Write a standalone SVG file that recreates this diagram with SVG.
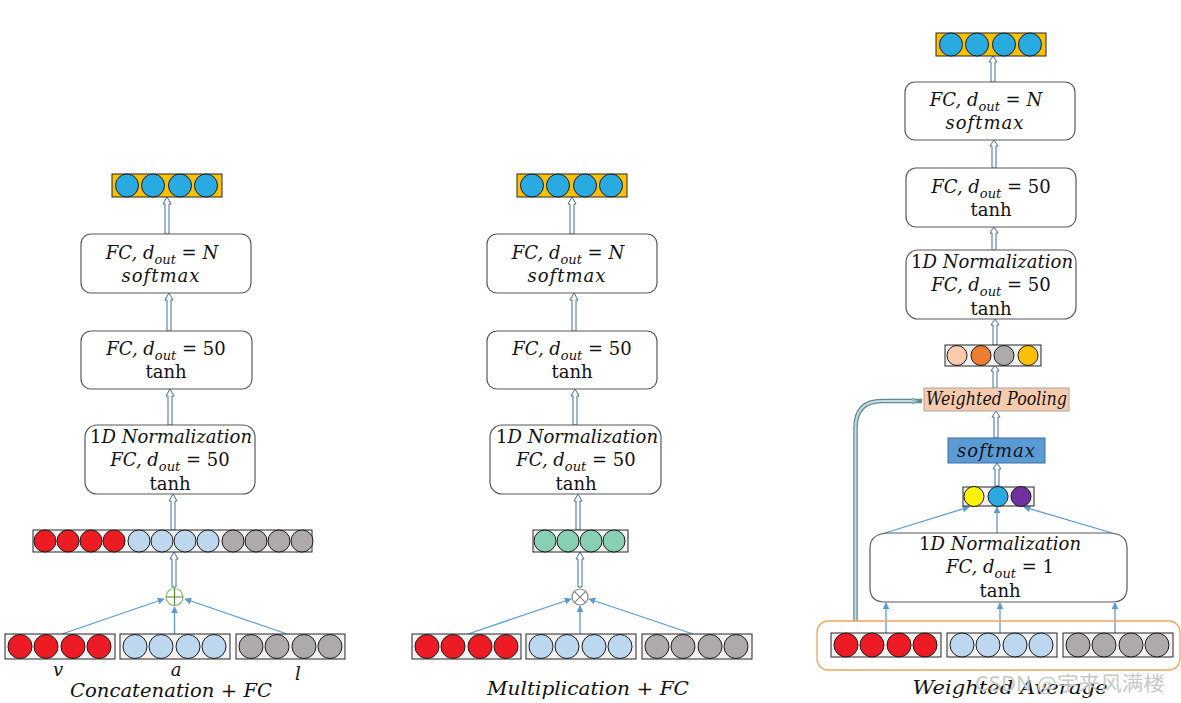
<svg xmlns="http://www.w3.org/2000/svg" width="1181" height="703" viewBox="0 0 1181 703">
<style>
.box{fill:#fff;stroke:#595959;stroke-width:1.2}
.bar{fill:#F2F2F2;stroke:#262626;stroke-width:1}
.obar{fill:#FFC000;stroke:#262626;stroke-width:1}
.c{stroke:#1a1a1a;stroke-width:1}
.red{fill:#ED1C24}.lb{fill:#BDD7EE}.gr{fill:#AEAAAA}.bl{fill:#29ABE2}.gn{fill:#88D0B4}
.pe{fill:#F8CBAD}.or{fill:#ED7D31}.go{fill:#FFC000}.ye{fill:#FFF200}.pu{fill:#7030A0}
.t{font-family:"DejaVu Serif","Liberation Serif",serif;font-size:18px;fill:#111;text-anchor:middle}
.i{font-style:italic}
.sub{font-size:13px;font-style:italic}
.ha{fill:#fff;stroke:#41719C;stroke-width:1}
.thin{stroke:#5B9BD5;stroke-width:1.3;fill:none;marker-end:url(#ah)}
.wm{font-family:"Noto Sans CJK SC","Liberation Sans",sans-serif;font-size:20px;fill:#c8c8c8}
</style>
<defs>
<marker id="ah" viewBox="0 0 10 10" refX="9" refY="5" markerWidth="7" markerHeight="7" markerUnits="userSpaceOnUse" orient="auto">
<path d="M0,0 L10,5 L0,10 z" fill="#5B9BD5"/>
</marker>
<marker id="ah2" viewBox="0 0 10 10" refX="8" refY="5" markerWidth="8" markerHeight="8" markerUnits="userSpaceOnUse" orient="auto">
<path d="M0,1 L9,5 L0,9 z" fill="#A9C4C8" stroke="#5E8A94" stroke-width="1"/>
</marker>
</defs>
<rect width="1181" height="703" fill="#fff"/>

<!-- connectors -->
<g id="connectors">
<path class="ha" d="M165,234 V204 H163 L167,197 L171,204 H169 V234 Z"/>
<path class="ha" d="M167,331 V300 H165 L169,293 L173,300 H171 V331 Z"/>
<path class="ha" d="M168,425 V396 H166 L170,389 L174,396 H172 V425 Z"/>
<path class="ha" d="M171,530 V501 H169 L173,494 L177,501 H175 V530 Z"/>
<path class="ha" d="M172,587 V559 H170 L174,552 L178,559 H176 V587 Z"/>
<path class="ha" d="M570,234 V204 H568 L572,197 L576,204 H574 V234 Z"/>
<path class="ha" d="M572,331 V300 H570 L574,293 L578,300 H576 V331 Z"/>
<path class="ha" d="M573,425 V396 H571 L575,389 L579,396 H577 V425 Z"/>
<path class="ha" d="M576,530 V501 H574 L578,494 L582,501 H580 V530 Z"/>
<path class="ha" d="M578,587 V559 H576 L580,552 L584,559 H582 V587 Z"/>
<path class="ha" d="M991,82 V62 H989 L993,56 L997,62 H995 V82 Z"/>
<path class="ha" d="M992,168 V146 H990 L994,140 L998,146 H996 V168 Z"/>
<path class="ha" d="M992,250 V233 H990 L994,227 L998,233 H996 V250 Z"/>
<path class="ha" d="M993,345 V325 H991 L995,319 L999,325 H997 V345 Z"/>
<path class="ha" d="M993,388 V371 H991 L995,365 L999,371 H997 V388 Z"/>
<path class="ha" d="M994,438 V417 H992 L996,411 L1000,417 H998 V438 Z"/>
<path class="ha" d="M995,486 V469 H993 L997,463 L1001,469 H999 V486 Z"/>
<line class="thin" x1="62" y1="634" x2="164" y2="599"/>
<line class="thin" x1="174.5" y1="634" x2="174.5" y2="607"/>
<line class="thin" x1="287" y1="634" x2="185" y2="599"/>
<line class="thin" x1="468" y1="634" x2="571" y2="599"/>
<line class="thin" x1="580" y1="634" x2="580" y2="606"/>
<line class="thin" x1="693" y1="634" x2="589" y2="599"/>
<line class="thin" x1="886" y1="633" x2="886" y2="603"/>
<line class="thin" x1="1000" y1="633" x2="1000" y2="603"/>
<line class="thin" x1="1115" y1="633" x2="1115" y2="603"/>
<line class="thin" x1="885" y1="533" x2="969" y2="507"/>
<line class="thin" x1="997" y1="533" x2="997" y2="507"/>
<line class="thin" x1="1112" y1="533" x2="1024" y2="507"/>
<path d="M855.5,621 V428 Q855.5,401 882,401 H922" fill="none" stroke="#5E8A94" stroke-width="4.5"/>
<path d="M855.5,621 V428 Q855.5,401 882,401 H918" fill="none" stroke="#C9DCDF" stroke-width="2" marker-end="url(#ah2)"/>
</g>

<!-- ================= LEFT COLUMN ================= -->
<g id="left-out">
<rect class="obar" x="112" y="174" width="110" height="23"/>
<circle class="c bl" cx="127" cy="185.5" r="11.5"/><circle class="c bl" cx="153" cy="185.5" r="11.5"/><circle class="c bl" cx="180" cy="185.5" r="11.5"/><circle class="c bl" cx="206" cy="185.5" r="11.5"/>
</g>
<g id="left-fcN">
<rect class="box" x="81" y="234" width="170" height="59" rx="10"/>
<text class="t" x="162" y="259"><tspan class="i">FC, d</tspan><tspan class="sub" dy="5">out</tspan><tspan dy="-5"> = </tspan><tspan class="i">N</tspan></text>
<text class="t i" x="161" y="282" letter-spacing="1">softmax</text>
</g>
<g id="left-fc50">
<rect class="box" x="81" y="331" width="171" height="58" rx="10"/>
<text class="t" x="166" y="355"><tspan class="i">FC, d</tspan><tspan class="sub" dy="5">out</tspan><tspan dy="-5"> = 50</tspan></text>
<text class="t" x="166" y="378">tanh</text>
</g>
<g id="left-norm">
<rect class="box" x="85" y="425" width="170" height="69" rx="12"/>
<text class="t" x="171" y="443" textLength="162" lengthAdjust="spacingAndGlyphs">1<tspan class="i">D Normalization</tspan></text>
<text class="t" x="170" y="466"><tspan class="i">FC, d</tspan><tspan class="sub" dy="5">out</tspan><tspan dy="-5"> = 50</tspan></text>
<text class="t" x="170" y="490">tanh</text>
</g>
<g id="left-concat">
<rect class="bar" x="33" y="530" width="279" height="22"/>
<circle class="c red" cx="45" cy="541" r="11"/><circle class="c red" cx="68" cy="541" r="11"/><circle class="c red" cx="91" cy="541" r="11"/><circle class="c red" cx="114" cy="541" r="11"/>
<circle class="c lb" cx="139" cy="541" r="11"/><circle class="c lb" cx="162" cy="541" r="11"/><circle class="c lb" cx="185" cy="541" r="11"/><circle class="c lb" cx="208" cy="541" r="11"/>
<circle class="c gr" cx="233" cy="541" r="11"/><circle class="c gr" cx="256" cy="541" r="11"/><circle class="c gr" cx="279" cy="541" r="11"/><circle class="c gr" cx="302" cy="541" r="11"/>
</g>
<g id="left-plus">
<circle cx="174.5" cy="597" r="8.5" fill="#fff" stroke="#8DB870" stroke-width="1.2"/>
<path d="M166,597 H183 M174.5,588.5 V605.5" stroke="#4E8A2E" stroke-width="1.2"/>
</g>
<g id="left-v">
<rect class="bar" x="5" y="634" width="110" height="25"/>
<circle class="c red" cx="20" cy="646.5" r="12"/><circle class="c red" cx="46" cy="646.5" r="12"/><circle class="c red" cx="73" cy="646.5" r="12"/><circle class="c red" cx="99" cy="646.5" r="12"/>
</g>
<g id="left-a">
<rect class="bar" x="120" y="634" width="110" height="25"/>
<circle class="c lb" cx="135" cy="646.5" r="12"/><circle class="c lb" cx="161" cy="646.5" r="12"/><circle class="c lb" cx="188" cy="646.5" r="12"/><circle class="c lb" cx="214" cy="646.5" r="12"/>
</g>
<g id="left-l">
<rect class="bar" x="236" y="634" width="109" height="25"/>
<circle class="c gr" cx="251" cy="646.5" r="12"/><circle class="c gr" cx="277" cy="646.5" r="12"/><circle class="c gr" cx="304" cy="646.5" r="12"/><circle class="c gr" cx="330" cy="646.5" r="12"/>
</g>
<text class="t i" x="58" y="676" font-size="20">v</text>
<text class="t i" x="176" y="676" font-size="20">a</text>
<text class="t i" x="298" y="680" font-size="20">l</text>
<text class="t i" x="171" y="697" font-size="20" textLength="202" lengthAdjust="spacingAndGlyphs">Concatenation + FC</text>

<!-- ================= MIDDLE COLUMN ================= -->
<g id="mid-out">
<rect class="obar" x="517" y="174" width="110" height="23"/>
<circle class="c bl" cx="532" cy="185.5" r="11.5"/><circle class="c bl" cx="558" cy="185.5" r="11.5"/><circle class="c bl" cx="585" cy="185.5" r="11.5"/><circle class="c bl" cx="611" cy="185.5" r="11.5"/>
</g>
<g id="mid-fcN">
<rect class="box" x="487" y="234" width="170" height="59" rx="10"/>
<text class="t" x="568" y="259"><tspan class="i">FC, d</tspan><tspan class="sub" dy="5">out</tspan><tspan dy="-5"> = </tspan><tspan class="i">N</tspan></text>
<text class="t i" x="567" y="282" letter-spacing="1">softmax</text>
</g>
<g id="mid-fc50">
<rect class="box" x="487" y="331" width="170" height="58" rx="10"/>
<text class="t" x="572" y="355"><tspan class="i">FC, d</tspan><tspan class="sub" dy="5">out</tspan><tspan dy="-5"> = 50</tspan></text>
<text class="t" x="572" y="378">tanh</text>
</g>
<g id="mid-norm">
<rect class="box" x="490" y="425" width="171" height="69" rx="12"/>
<text class="t" x="577" y="443" textLength="162" lengthAdjust="spacingAndGlyphs">1<tspan class="i">D Normalization</tspan></text>
<text class="t" x="576" y="466"><tspan class="i">FC, d</tspan><tspan class="sub" dy="5">out</tspan><tspan dy="-5"> = 50</tspan></text>
<text class="t" x="576" y="490">tanh</text>
</g>
<g id="mid-prod">
<rect class="bar" x="533" y="530" width="95" height="22"/>
<circle class="c gn" cx="545" cy="541" r="11"/><circle class="c gn" cx="568" cy="541" r="11"/><circle class="c gn" cx="591" cy="541" r="11"/><circle class="c gn" cx="614" cy="541" r="11"/>
</g>
<g id="mid-times">
<circle cx="580" cy="597" r="8" fill="#fff" stroke="#7F7F7F" stroke-width="1.2"/>
<path d="M574.3,591.3 L585.7,602.7 M585.7,591.3 L574.3,602.7" stroke="#7F7F7F" stroke-width="1.1"/>
</g>
<g id="mid-v">
<rect class="bar" x="412" y="634" width="109" height="25"/>
<circle class="c red" cx="427" cy="646.5" r="12"/><circle class="c red" cx="453" cy="646.5" r="12"/><circle class="c red" cx="480" cy="646.5" r="12"/><circle class="c red" cx="506" cy="646.5" r="12"/>
</g>
<g id="mid-a">
<rect class="bar" x="526" y="634" width="110" height="25"/>
<circle class="c lb" cx="541" cy="646.5" r="12"/><circle class="c lb" cx="567" cy="646.5" r="12"/><circle class="c lb" cx="594" cy="646.5" r="12"/><circle class="c lb" cx="620" cy="646.5" r="12"/>
</g>
<g id="mid-l">
<rect class="bar" x="642" y="634" width="110" height="25"/>
<circle class="c gr" cx="657" cy="646.5" r="12"/><circle class="c gr" cx="683" cy="646.5" r="12"/><circle class="c gr" cx="710" cy="646.5" r="12"/><circle class="c gr" cx="736" cy="646.5" r="12"/>
</g>
<text class="t i" x="588" y="695" font-size="20" textLength="202" lengthAdjust="spacingAndGlyphs">Multiplication + FC</text>

<!-- ================= RIGHT COLUMN ================= -->
<g id="right-out">
<rect class="obar" x="936" y="33" width="110" height="23"/>
<circle class="c bl" cx="951" cy="44.5" r="11.5"/><circle class="c bl" cx="977" cy="44.5" r="11.5"/><circle class="c bl" cx="1004" cy="44.5" r="11.5"/><circle class="c bl" cx="1030" cy="44.5" r="11.5"/>
</g>
<g id="right-fcN">
<rect class="box" x="905" y="82" width="170" height="58" rx="10"/>
<text class="t" x="986" y="106"><tspan class="i">FC, d</tspan><tspan class="sub" dy="5">out</tspan><tspan dy="-5"> = </tspan><tspan class="i">N</tspan></text>
<text class="t i" x="985" y="129" letter-spacing="1">softmax</text>
</g>
<g id="right-fc50">
<rect class="box" x="906" y="168" width="170" height="59" rx="10"/>
<text class="t" x="991" y="193"><tspan class="i">FC, d</tspan><tspan class="sub" dy="5">out</tspan><tspan dy="-5"> = 50</tspan></text>
<text class="t" x="991" y="216">tanh</text>
</g>
<g id="right-norm">
<rect class="box" x="906" y="250" width="170" height="69" rx="12"/>
<text class="t" x="992" y="268" textLength="162" lengthAdjust="spacingAndGlyphs">1<tspan class="i">D Normalization</tspan></text>
<text class="t" x="991" y="291"><tspan class="i">FC, d</tspan><tspan class="sub" dy="5">out</tspan><tspan dy="-5"> = 50</tspan></text>
<text class="t" x="991" y="315">tanh</text>
</g>
<g id="right-pooled">
<rect class="bar" x="945" y="345" width="96" height="21"/>
<circle class="c pe" cx="957" cy="355.5" r="10"/><circle class="c or" cx="981" cy="355.5" r="10"/><circle class="c gr" cx="1004" cy="355.5" r="10"/><circle class="c go" cx="1028" cy="355.5" r="10"/>
</g>
<g id="right-wpool">
<rect x="924" y="388" width="145" height="23" fill="#F8CBAD" stroke="#A6A6A6" stroke-width="1"/>
<text class="t i" x="996.5" y="405" font-size="16" textLength="141" lengthAdjust="spacingAndGlyphs">Weighted Pooling</text>
</g>
<g id="right-softmax">
<rect x="948" y="438" width="97" height="25" fill="#5B9BD5" stroke="#41719C" stroke-width="1"/>
<text class="t i" x="996.5" y="457" letter-spacing="1">softmax</text>
</g>
<g id="right-weights">
<rect class="bar" x="963" y="487" width="71" height="19"/>
<circle class="c ye" cx="974" cy="496.5" r="10"/><circle class="c bl" cx="998" cy="496.5" r="10"/><circle class="c pu" cx="1021" cy="496.5" r="10"/>
</g>
<g id="right-norm1">
<path class="box" d="M870,548 Q870,533 890,533 H1108 Q1127,533 1127,548 V588 Q1127,602 1112,602 H885 Q870,602 870,588 Z"/>
<text class="t" x="1000" y="550" textLength="162" lengthAdjust="spacingAndGlyphs">1<tspan class="i">D Normalization</tspan></text>
<text class="t" x="1000" y="573"><tspan class="i">FC, d</tspan><tspan class="sub" dy="5">out</tspan><tspan dy="-5"> = 1</tspan></text>
<text class="t" x="1000" y="597">tanh</text>
</g>
<g id="right-inputs">
<rect x="817" y="621" width="363" height="49" rx="11" fill="none" stroke="#F4A460" stroke-width="1.3"/>
<rect class="bar" x="831" y="633" width="110" height="24"/>
<circle class="c red" cx="846" cy="645" r="12"/><circle class="c red" cx="872" cy="645" r="12"/><circle class="c red" cx="899" cy="645" r="12"/><circle class="c red" cx="925" cy="645" r="12"/>
<rect class="bar" x="947" y="633" width="110" height="24"/>
<circle class="c lb" cx="962" cy="645" r="12"/><circle class="c lb" cx="988" cy="645" r="12"/><circle class="c lb" cx="1015" cy="645" r="12"/><circle class="c lb" cx="1041" cy="645" r="12"/>
<rect class="bar" x="1063" y="633" width="110" height="24"/>
<circle class="c gr" cx="1078" cy="645" r="12"/><circle class="c gr" cx="1104" cy="645" r="12"/><circle class="c gr" cx="1131" cy="645" r="12"/><circle class="c gr" cx="1157" cy="645" r="12"/>
</g>
<text class="t i" x="1010" y="694" font-size="20" textLength="195" lengthAdjust="spacingAndGlyphs">Weighted Average</text>
<text class="wm" x="975" y="691" textLength="190" lengthAdjust="spacingAndGlyphs">CSDN @宇来风满楼</text>
</svg>
